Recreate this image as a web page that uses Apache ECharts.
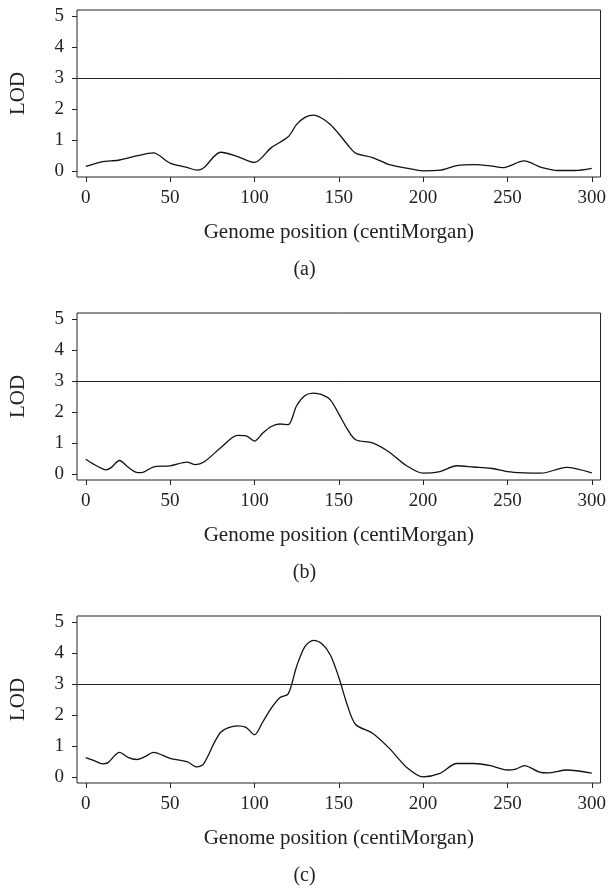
<!DOCTYPE html>
<html>
<head>
<meta charset="utf-8">
<script src="https://cdn.jsdelivr.net/npm/echarts@6/dist/echarts.min.js"></script>
<style>
html,body{margin:0;padding:0;background:#fff;}
#chart{width:609px;height:888px;}
</style>
</head>
<body>
<div id="chart"></div>
<script>
// Panel labels
const panelLabels = ['(a)', '(b)', '(c)'];
const xTicks = [0, 50, 100, 150, 200, 250, 300];
const yTicks = [0, 1, 2, 3, 4, 5];
const threshold = 3;
const xName = 'Genome position (centiMorgan)';
const yName = 'LOD';

// Panel (a)
const posA = [0, 10, 15, 20, 30, 40, 50, 60, 66, 70, 80, 90, 100, 110, 120, 125, 130, 135, 140, 145, 150, 155, 160, 170, 180, 190, 200, 210, 220, 230, 240, 247, 260, 270, 280, 290, 300];
const lodA = [0.14, 0.30, 0.32, 0.35, 0.48, 0.58, 0.25, 0.11, 0.02, 0.10, 0.60, 0.46, 0.27, 0.75, 1.10, 1.50, 1.73, 1.80, 1.70, 1.50, 1.20, 0.86, 0.57, 0.43, 0.20, 0.09, 0.00, 0.02, 0.17, 0.20, 0.16, 0.10, 0.32, 0.11, 0.01, 0.01, 0.08];

// Panel (b)
const posB = [0, 5, 10, 12, 15, 20, 25, 30, 33, 40, 50, 60, 65, 70, 80, 90, 95, 100, 105, 110, 115, 120, 125, 130, 135, 140, 145, 150, 155, 160, 170, 180, 190, 200, 210, 220, 230, 240, 250, 260, 270, 285, 300];
const lodB = [0.47, 0.30, 0.16, 0.13, 0.20, 0.43, 0.22, 0.05, 0.04, 0.22, 0.26, 0.38, 0.30, 0.38, 0.84, 1.24, 1.23, 1.06, 1.32, 1.53, 1.61, 1.59, 2.20, 2.53, 2.61, 2.56, 2.39, 1.94, 1.45, 1.10, 1.00, 0.70, 0.27, 0.02, 0.07, 0.26, 0.22, 0.18, 0.07, 0.03, 0.02, 0.21, 0.03];

// Panel (c)
const posC = [0, 5, 10, 13, 20, 25, 30, 35, 40, 50, 60, 66, 70, 80, 90, 95, 100, 105, 110, 115, 120, 125, 130, 135, 140, 145, 150, 155, 160, 170, 180, 190, 200, 210, 220, 230, 240, 250, 255, 260, 270, 275, 285, 300];
const lodC = [0.62, 0.52, 0.42, 0.45, 0.79, 0.63, 0.56, 0.65, 0.79, 0.60, 0.49, 0.32, 0.43, 1.44, 1.65, 1.60, 1.36, 1.78, 2.22, 2.56, 2.68, 3.57, 4.22, 4.41, 4.30, 3.94, 3.22, 2.33, 1.69, 1.41, 0.92, 0.32, 0.00, 0.11, 0.43, 0.43, 0.36, 0.22, 0.25, 0.36, 0.14, 0.13, 0.22, 0.12];

const panels = [[posA, lodA], [posB, lodB], [posC, lodC]];
const FONT = 'Liberation Serif';
const TXT = '#222';
const gridTops = [10, 313, 616];
const gridH = 167;

const option = {
  animation: false,
  backgroundColor: '#fff',
  title: panelLabels.map((t, i) => ({
    text: t, left: 'center', top: gridTops[i] + 250, padding: 0,
    textStyle: {fontFamily: FONT, fontSize: 20, fontWeight: 'normal', color: TXT}
  })),
  grid: gridTops.map(t => ({
    left: 76, width: 525, top: t, height: gridH, show: true,
    borderColor: '#222', borderWidth: 1, backgroundColor: 'transparent', containLabel: false
  })),
  xAxis: gridTops.map((t, i) => ({
    type: 'value', gridIndex: i, min: -5.2, max: 305.2, position: 'bottom',
    name: xName, nameLocation: 'middle', nameGap: 45,
    nameTextStyle: {fontFamily: FONT, fontSize: 21, color: TXT},
    axisLine: {show: false, onZero: false},
    axisTick: {show: true, length: 5, customValues: xTicks, lineStyle: {color: '#222'}},
    axisLabel: {customValues: xTicks, fontFamily: FONT, fontSize: 19, color: TXT, margin: 12},
    splitLine: {show: false}
  })),
  yAxis: gridTops.map((t, i) => ({
    type: 'value', gridIndex: i, min: -0.2, max: 5.2, position: 'left',
    name: yName, nameLocation: 'middle', nameGap: 48,
    nameTextStyle: {fontFamily: FONT, fontSize: 21, color: TXT},
    axisLine: {show: false, onZero: false},
    axisTick: {show: true, length: 5, customValues: yTicks, lineStyle: {color: '#222'}},
    axisLabel: {customValues: yTicks, fontFamily: FONT, fontSize: 19, color: TXT, margin: 13},
    splitLine: {show: false}
  })),
  series: panels.map((p, i) => ({
    type: 'line', xAxisIndex: i, yAxisIndex: i,
    data: p[0].map((x, j) => [x, p[1][j]]),
    showSymbol: false, smooth: 0.3,
    lineStyle: {color: '#111', width: 1.3},
    markLine: {
      silent: true, symbol: 'none', label: {show: false},
      lineStyle: {color: '#222', width: 1, type: 'solid'},
      data: [{yAxis: threshold}]
    }
  }))
};

const chart = echarts.init(document.getElementById('chart'), null, {renderer: 'canvas'});
chart.setOption(option);
</script>
</body>
</html>
